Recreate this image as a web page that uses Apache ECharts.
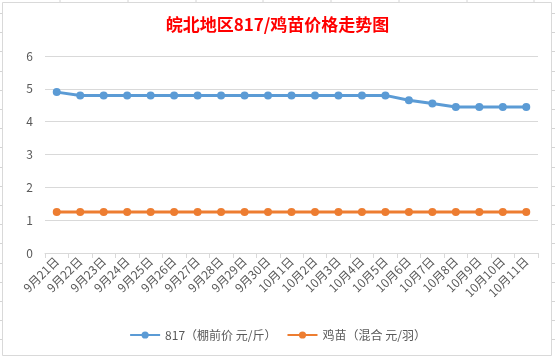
<!DOCTYPE html>
<html><head><meta charset="utf-8">
<script src="https://cdn.jsdelivr.net/npm/echarts@6/dist/echarts.min.js"></script>
<style>html,body{margin:0;padding:0;background:#fff}#c{width:555px;height:359px}</style>
</head><body><div id="c"></div>
<script>
const categories = ['9月21日','9月22日','9月23日','9月24日','9月25日','9月26日','9月27日','9月28日','9月29日','9月30日','10月1日','10月2日','10月3日','10月4日','10月5日','10月6日','10月7日','10月8日','10月9日','10月10日','10月11日'];
const price817 = [4.9,4.8,4.8,4.8,4.8,4.8,4.8,4.8,4.8,4.8,4.8,4.8,4.8,4.8,4.8,4.65,4.55,4.45,4.45,4.45,4.45];
const chickPrice = [1.25,1.25,1.25,1.25,1.25,1.25,1.25,1.25,1.25,1.25,1.25,1.25,1.25,1.25,1.25,1.25,1.25,1.25,1.25,1.25,1.25];
const seriesNames = ['817（棚前价 元/斤）','鸡苗（混合 元/羽）'];
const yTicks = {min:0,max:6,interval:1};

const chart = echarts.init(document.getElementById('c'));
const font = '"Microsoft YaHei","Noto Sans CJK SC",sans-serif';
const deco = [];
[60,128,196,263,331,399,467,534].forEach(x=>deco.push({type:'line',shape:{x1:x,y1:0,x2:x,y2:2},style:{stroke:'#d4d4d4',lineWidth:1},silent:true}));
for(let y=13;y<359;y+=19.2){deco.push({type:'line',shape:{x1:0,y1:Math.round(y)+0.5,x2:2,y2:Math.round(y)+0.5},style:{stroke:'#d4d4d4'},silent:true});deco.push({type:'line',shape:{x1:552,y1:Math.round(y)+0.5,x2:555,y2:Math.round(y)+0.5},style:{stroke:'#d4d4d4'},silent:true});}
deco.push({type:'rect',shape:{x:2.5,y:2.5,width:549,height:353},style:{fill:'none',stroke:'#d9d9d9',lineWidth:1},silent:true});

chart.setOption({
  animation:false,
  backgroundColor:'#fff',
  title:{text:'皖北地区817/鸡苗价格走势图',left:'center',top:11,textStyle:{color:'#ff0000',fontSize:17,fontWeight:'bold',fontFamily:font}},
  graphic:deco,
  grid:{left:45,right:17,top:56,bottom:106,containLabel:false},
  legend:{bottom:13,left:'center',itemWidth:30,itemHeight:9,itemGap:10,textStyle:{color:'#595959',fontSize:12,fontFamily:font},data:seriesNames},
  xAxis:{type:'category',data:categories,boundaryGap:true,
    axisLine:{lineStyle:{color:'#d9d9d9'}},axisTick:{show:true,length:5,lineStyle:{color:'#d9d9d9'}},
    axisLabel:{rotate:45,interval:0,color:'#595959',fontSize:12,fontFamily:font,margin:6}},
  yAxis:{type:'value',min:yTicks.min,max:yTicks.max,interval:yTicks.interval,
    axisLine:{show:false},axisTick:{show:false},
    splitLine:{lineStyle:{color:'#d9d9d9'}},
    axisLabel:{color:'#595959',fontSize:12,fontFamily:font,margin:12}},
  series:[
    {name:seriesNames[0],type:'line',data:price817,symbol:'circle',symbolSize:8,itemStyle:{color:'#5b9bd5'},lineStyle:{color:'#5b9bd5',width:3}},
    {name:seriesNames[1],type:'line',data:chickPrice,symbol:'circle',symbolSize:8,itemStyle:{color:'#ed7d31'},lineStyle:{color:'#ed7d31',width:3}}
  ]
});
</script></body></html>
